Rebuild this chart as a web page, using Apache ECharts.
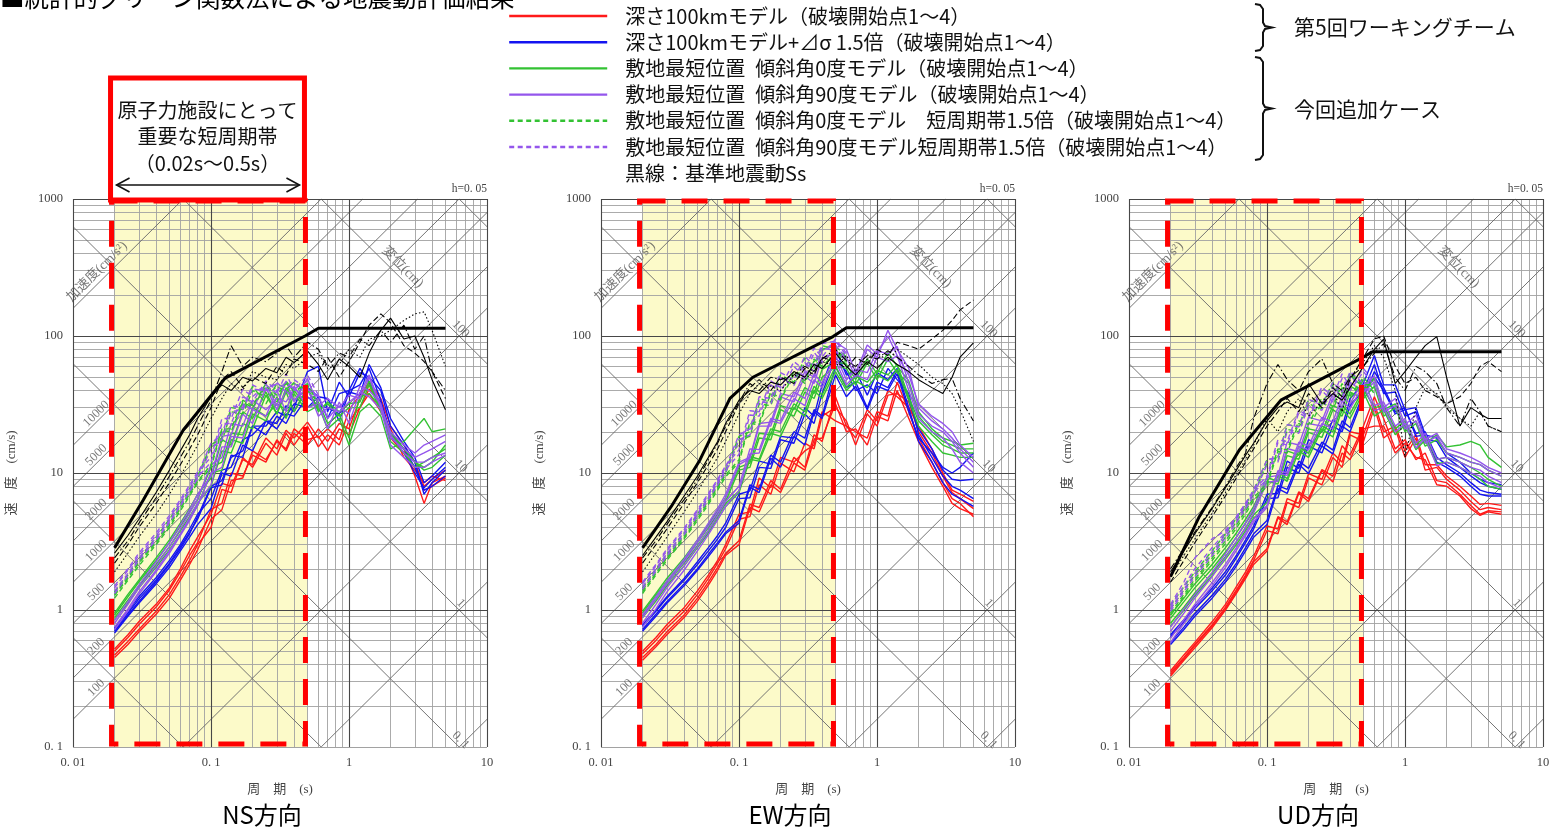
<!DOCTYPE html>
<html>
<head>
<meta charset="utf-8">
<title>統計的グリーン関数法による地震動評価結果</title>
<script src="https://cdn.jsdelivr.net/npm/echarts@6/dist/echarts.min.js"></script>
<style>
html,body{margin:0;padding:0;background:#fff;}
#chart{width:1557px;height:829px;}
</style>
</head>
<body>
<div id="chart"></div>
<script>
// ---- periods (s) shared by all simulated spectra ----
const periods = [0.02,0.025,0.03,0.04,0.05,0.06,0.07,0.08,0.1,0.12,0.14,0.17,0.2,0.25,0.3,0.35,0.4,0.5,0.6,0.7,0.85,1.0,1.2,1.4,1.7,2.0,2.5,3.0,3.5,4.0,5.0];

// ---- tick labels ----
const periodTickText = ['0. 01','0. 1','1','10'];
const velTickText = ['0. 1','1','10','100','1000'];
const accelLabelValues = [100,200,500,1000,2000,5000,10000];
const dispLabelValues = [0.1,1,10,100];
const dispLabelText = ['0. 1','1','10','100'];

// short-period band (s)
const shortBand = [0.02, 0.5];

const modelNames = [
  '深さ100kmモデル（破壊開始点1～4）',
  '深さ100kmモデル+⊿σ 1.5倍（破壊開始点1～4）',
  '敷地最短位置\u2002傾斜角0度モデル（破壊開始点1～4）',
  '敷地最短位置\u2002傾斜角90度モデル（破壊開始点1～4）',
  '敷地最短位置\u2002傾斜角0度モデル\u2003短周期帯1.5倍（破壊開始点1～4）',
  '敷地最短位置\u2002傾斜角90度モデル短周期帯1.5倍（破壊開始点1～4）'
];

// ---- NS ----
const nsSs = [[0.02,2.84],[0.0323,6.35],[0.063,20.6],[0.126,49],[0.48,100],[0.6,114],[5,114]];
const nsRed = [
  [0.50,0.63,0.78,1.05,1.40,1.90,2.50,3.10,5.4,6.0,10.0,9.5,13.5,12.0,17.5,14.5,19.5,16.0,21,17,23,21,35,44,31,19,15,9.5,6.0,8.5,9.5],
  [0.47,0.59,0.72,0.98,1.30,1.75,2.30,3.00,4.0,7.6,7.2,13.0,11.0,16.5,13.5,19.5,16.0,22.0,15.5,19.0,16,24,30,38,28,21,13,10.5,8.5,9.5,8.8],
  [0.45,0.56,0.69,0.93,1.22,1.65,2.15,2.75,4.6,5.4,8.8,9.2,14.5,12.5,17.0,15.0,21.0,17.5,18.5,14.5,21,19,30,41,33,18,14,11,7.5,8.0,9.2],
  [0.52,0.66,0.82,1.10,1.45,2.00,2.70,3.40,5.0,8.4,8.0,12.5,11.5,18.0,15.0,20.5,18.0,23.5,18.0,21,17.5,29,37,46,35,22,16,12,8.0,9.0,10.5]
];
const nsBlue = [
  [0.72,0.95,1.20,1.65,2.20,2.90,3.70,4.60,7.8,8.2,13.5,13.0,22,19,26,23,30,55,60,28,46,36,54,50,40,22,16,12,7.0,8.5,10.5],
  [0.68,0.90,1.12,1.55,2.05,2.70,3.40,4.20,5.5,10.0,9.5,16,14.5,24,21,27,26,36,31,30,27,40,44,58,34,19,14,10,7.8,9.0,11.0],
  [0.70,0.92,1.15,1.60,2.15,2.80,3.60,4.80,8.0,8.8,13.0,14.5,22,22,28,26,32,30,36,25,38,40,58,46,32,20,15,11,7.5,8.0,9.5],
  [0.74,0.98,1.25,1.72,2.30,3.00,3.90,5.00,6.5,10.5,11.0,17.5,19,24,23,31,28,42,36,35,24,39,37,62,42,25,17,13,8.5,9.5,12.0]
];
const nsGreen = [
  [0.92,1.25,1.60,2.30,3.10,4.10,5.20,6.40,11,12,19.5,19,30,26,32,29,40,30,33,23,27,18,36,38,30,17,14,11,12,13,15],
  [0.88,1.18,1.50,2.15,2.90,3.80,4.80,6.00,8.0,14.5,14.0,23,21,37,27,39,28,42,28,33,28,32,33,47,29,19,15,12,10.5,11,13.5],
  [0.85,1.12,1.45,2.05,2.75,3.60,4.60,5.80,10,10.5,17.5,16.5,27,24,36,25,38,28,31,21,25,16,28,32,26,15,17,21,25,20,21],
  [0.95,1.30,1.65,2.40,3.25,4.30,5.50,7.00,9.2,17.5,16,28,25,39,27,42,34,41,29,32,26,30,30,44,28,20,15,12,11,12,16]
];
const nsPurple = [
  [0.80,1.10,1.45,2.10,2.90,3.90,5.10,6.50,11.5,13,23,22,34,29,35,33,41,35,37,25,31,27,43,40,32,18,15,13,14,15,17],
  [0.75,1.02,1.35,1.95,2.70,3.60,4.70,6.00,8.2,15.5,15.5,27,23,42,29,40,34,42,26,30,28,33,38,52,31,19,14,12,12,13,14],
  [0.72,0.98,1.30,1.90,2.60,3.50,4.50,5.80,10,11,18.5,18,29,26,40,28,43,30,32,21,33,23,39,36,29,16,13,11,11,12,13.5],
  [0.84,1.15,1.52,2.25,3.10,4.20,5.40,7.00,9.5,18.5,19,32,29,45,31,47,33,49,31,35,30,37,35,50,30,20,16,14,16,17,19]
];
const nsGreenDash = [
  [1.30,1.75,2.25,3.20,4.30,5.70,7.20,9.0,15.5,17,28,27,40,36,43,39,46,38,34],
  [1.22,1.65,2.10,3.00,4.00,5.30,6.80,8.5,11,20.5,20,33,30,43,37,45,40,44,32],
  [1.35,1.80,2.35,3.40,4.60,6.00,7.60,9.5,16,18,30,29,43,32,45,41,45,40,33],
  [1.28,1.70,2.20,3.10,4.15,5.50,7.00,8.7,11.5,21,21,34,31,45,33,47,39,45,31]
];
const nsPurpleDash = [
  [1.45,1.95,2.50,3.50,4.70,6.20,7.90,9.8,16.5,19,31,30,44,39,45,42,48,41,36],
  [1.38,1.85,2.40,3.35,4.50,5.90,7.50,9.3,12,23,23,36,33,47,40,46,41,47,34],
  [1.32,1.78,2.30,3.25,4.35,5.75,7.30,9.1,15,17.5,28,29,41,40,46,39,45,39,33],
  [1.50,2.00,2.60,3.65,4.90,6.40,8.20,10.2,13,25,25,41,36,44,38,53,40,52,37]
];
const nsBlack = [
  [2.6,3.5,4.6,7.2,10.5,14.5,19,25,36,44,40,50,47,58,54,70,64,78,62,48,68,60,50,75,110,135,95,100,70,48,29],
  [2.2,3.0,4.0,6.0,8.5,11.5,15,19,30,48,55,42,50,45,60,52,68,62,55,70,50,65,90,120,145,125,85,75,65,55,35],
  [1.9,2.6,3.4,5.0,7.0,9.5,12.5,16,25,35,45,40,55,50,48,62,58,70,75,58,62,80,70,95,100,110,130,145,150,110,60],
  [2.4,3.2,4.3,6.6,9.5,13,17,22,34,55,85,60,70,65,75,85,70,90,80,60,75,70,95,85,110,90,120,80,100,55,40]
];

// ---- EW ----
const ewSs = [[0.02,2.84],[0.0323,5.7],[0.052,12.4],[0.086,35],[0.126,50],[0.48,99],[0.6,115],[5,115]];
const ewRed = [
  [0.48,0.60,0.74,0.98,1.30,1.70,2.20,2.80,4.6,4.8,8.2,7.0,11.8,10.2,16.5,15,26,30,24,16,27,22,37,38,33,20,14,9.5,7.2,6.5,5.5],
  [0.45,0.56,0.69,0.92,1.22,1.60,2.05,2.60,3.2,5.9,5.6,8.8,7.6,13,11,19,17,36,22,20,18,28,26,46,28,18,12,8.5,6.5,6.0,4.8],
  [0.50,0.63,0.78,1.04,1.38,1.80,2.30,3.00,5.0,5.2,9.2,7.8,13,12,14.5,16,28,24,22,18,29,24,40,36,30,22,15,10,7.5,7.0,6.2],
  [0.43,0.54,0.66,0.88,1.16,1.52,1.95,2.50,3.0,5.6,5.2,8.2,7.2,11.8,10.5,17.5,18,32,20,21,16,26,24,40,25,17,11,8,6.0,5.5,5.0]
];
const ewBlue = [
  [0.76,0.98,1.22,1.65,2.15,2.70,3.30,4.00,6.5,6.6,11,10.8,17.5,16.5,27,23,38,70,55,40,44,38,58,48,38,19,13,9.5,8.0,7.5,6.5],
  [0.72,0.93,1.15,1.55,2.00,2.55,3.10,3.70,4.5,8.2,7.6,13.5,12,20,18,29,26,60,42,46,30,46,42,56,30,17,12,8.5,7.0,6.5,5.7],
  [0.78,1.00,1.25,1.70,2.25,2.85,3.50,4.30,7.0,7.4,12.2,11.6,18.5,18,30,26,44,80,52,56,37,54,48,58,34,21,15,10.5,9.0,8.8,9.0],
  [0.70,0.90,1.12,1.50,1.95,2.45,3.00,3.60,4.3,7.9,7.2,12.8,11,18.5,16,28,25,52,36,43,29,43,40,53,28,18,14,11,10,11,14]
];
const ewGreen = [
  [0.95,1.28,1.62,2.30,3.10,4.00,5.00,6.20,10.5,11,18,17.5,29,26,39,35,50,60,58,44,64,48,68,54,45,26,20,17,16,15,15],
  [0.90,1.20,1.55,2.20,2.95,3.80,4.80,6.00,7.4,13.2,12.6,21,20,32,28,43,37,60,42,51,46,56,52,62,36,24,19,16,15,14,14],
  [0.98,1.32,1.70,2.40,3.25,4.20,5.30,6.60,11,11.8,19.5,19,31,29,42,38,57,65,62,48,68,53,76,60,47,28,21,18,17,16,16.5],
  [0.88,1.16,1.50,2.10,2.85,3.65,4.60,5.70,7.2,12.6,12.2,19.5,18.5,30,26,40,35,55,40,47,42,52,47,57,34,22,17,14,13.5,13,13]
];
const ewPurple = [
  [0.88,1.20,1.55,2.25,3.10,4.10,5.20,6.60,11.5,12.8,22,22,36,33,51,45,69,75,70,50,80,70,110,80,58,30,24,21,18,15,12],
  [0.80,1.10,1.45,2.10,2.90,3.80,4.90,6.20,8.0,15,14.8,25,24,39,35,53,45,72,48,57,54,78,74,84,45,27,22,20,17,14,11],
  [0.92,1.25,1.62,2.35,3.25,4.30,5.50,7.00,12,13,23,23.5,38,36,55,50,78,90,80,54,86,74,100,72,52,32,26,23,20,16,13],
  [0.75,1.02,1.35,1.95,2.70,3.55,4.55,5.70,7.4,13.8,14,24,23,35,31,48,42,66,44,52,48,70,65,72,40,25,20,18,15,12,10]
];
const ewGreenDash = [
  [1.40,1.90,2.45,3.50,4.80,6.30,8.0,10.0,17.5,18.5,32,31,49,44,64,55,80,85,70],
  [1.32,1.80,2.30,3.30,4.50,5.90,7.5,9.4,12,23,22.5,38,34,53,45,66,57,78,65],
  [1.45,1.98,2.55,3.65,5.00,6.60,8.4,10.5,18.5,20,35,33,52,46,69,58,85,80,68],
  [1.36,1.85,2.38,3.40,4.65,6.10,7.8,9.7,12.5,23.5,23.5,39,35,55,47,68,60,75,62]
];
const ewPurpleDash = [
  [1.55,2.10,2.70,3.85,5.25,6.90,8.8,11.0,19,21,36,35,54,48,71,61,88,92,72],
  [1.48,2.00,2.58,3.70,5.05,6.65,8.5,10.6,13.7,26.5,26,44,39,60,50,76,64,86,68],
  [1.42,1.92,2.48,3.55,4.85,6.40,8.2,10.2,17.5,19,33.5,32,49.5,43.5,64,55,82,78,66],
  [1.60,2.15,2.78,3.95,5.40,7.10,9.0,11.3,14.8,28.5,28,47,42,65,56,82,70,95,75]
];
const ewBlack = [
  [2.5,3.4,4.4,6.8,9.5,13,17,23,34,40,38,46,44,55,50,62,58,75,60,52,65,58,70,62,55,48,42,38,50,70,89],
  [2.2,3.0,3.9,6.0,8.5,11.5,15,20,32,42,48,40,50,45,58,52,70,65,58,70,62,80,72,90,85,80,95,110,130,155,183],
  [1.9,2.6,3.4,5.2,7.3,10,13,17,27,38,45,43,40,52,48,56,65,60,72,55,68,75,66,80,70,62,50,45,38,29,17],
  [2.4,3.2,4.2,6.4,9.0,12.5,16.5,22,33,45,40,50,48,52,60,55,68,80,66,60,72,68,78,70,60,52,45,48,49,35,24]
];

// ---- UD ----
const udSs = [[0.02,1.75],[0.0323,4.8],[0.063,14.7],[0.126,34],[0.48,68.7],[0.58,76.7],[5,76.7]];
const udRed = [
  [0.35,0.45,0.56,0.78,1.05,1.40,1.80,2.30,3.8,3.6,6.1,5.6,9.2,8.2,13,11,19,17,30,18,21,13,18,10.5,11,9.0,7.5,6.2,5.4,5.6,5.4],
  [0.33,0.43,0.53,0.74,1.00,1.32,1.70,2.15,2.7,4.7,4.2,7.1,6.2,10.4,8.6,14,12.5,21,22,22,14,16.5,13,12.5,8.2,8.0,6.8,5.5,4.9,5.2,5.0],
  [0.36,0.47,0.58,0.82,1.10,1.48,1.90,2.45,4.1,3.9,6.5,6.0,9.9,9.0,14,12,20,19,32,20,22,14.5,19,11.5,11.5,9.5,8.0,6.8,5.9,6.0,5.8],
  [0.34,0.44,0.55,0.76,1.02,1.36,1.75,2.25,2.8,4.8,4.4,7.3,6.5,10.6,9.5,15.8,13.5,22,36,25,15,17.5,12.5,14,8.8,8.5,7.0,5.8,5.0,5.3,5.2]
];
const udBlue = [
  [0.64,0.82,1.02,1.38,1.80,2.40,3.10,3.90,6.5,6.6,11,10,15.8,14,22,20,31,40,62,38,39,26,28,17.5,17,13,11,9.5,8.5,8.0,7.6],
  [0.58,0.75,0.94,1.28,1.68,2.20,2.85,3.60,4.5,8.1,7.6,12.2,10.8,16.8,14.7,24,21.5,38,50,40,27,29,19.5,20,13,11.5,10,8.5,7.5,7.2,7.0],
  [0.66,0.85,1.06,1.44,1.90,2.50,3.25,4.10,7.0,7.1,12.2,10.8,17.5,15.6,24.5,21.5,35,45,72,44,44,29,30,19,18,14,12,10,9.0,8.5,8.2],
  [0.56,0.72,0.90,1.22,1.60,2.10,2.70,3.40,4.2,7.7,7.1,11.6,9.9,15.7,13.8,22,20,36,55,42,28,30,18.5,19,12,11,9.5,8.0,7.0,6.8,6.8]
];
const udGreen = [
  [0.87,1.15,1.45,2.00,2.65,3.40,4.30,5.30,8.7,8.3,13.4,12.6,19.8,18.2,29,26,39,35,43,26,30,20,23,15.7,17.5,14,13,12,11.5,10.5,9.5],
  [0.80,1.05,1.33,1.85,2.45,3.15,4.00,4.95,6.1,10.2,9.1,15.7,13.9,22,20,31,27,41,30,31,21,24,16,18.5,12.6,13,12,11,10,9.0,8.0],
  [0.92,1.22,1.55,2.15,2.85,3.65,4.60,5.70,9.3,8.7,14.5,13.5,21,20,31,29,43,38,50,29,32,21,24,16.5,19,15.5,16,17,16,13,11],
  [0.76,1.00,1.27,1.78,2.35,3.00,3.80,4.70,5.7,9.6,8.7,14.5,13,21,18.3,29,25,39,26,29,19,22.5,14.8,17.4,11.7,12,11,10,9.0,8.0,7.6]
];
const udPurple = [
  [0.70,0.95,1.22,1.75,2.40,3.15,4.00,5.10,8.6,8.7,15.1,14.3,23,22,35,30,46,39,46,28,31,21,24,16.5,18.5,14,13,12,11.5,10.5,9.5],
  [0.62,0.85,1.10,1.58,2.15,2.85,3.65,4.60,5.8,10.4,10,16.8,15.7,25.5,23.5,37,32,48,31,33,22,25,16.5,19.5,12.6,13,12,11,10.5,9.5,8.5],
  [0.75,1.02,1.30,1.88,2.58,3.40,4.35,5.50,9.3,9.6,16.8,16,25.5,24,38,34,51,43,51,30,35,22.5,26.5,17.5,19.5,15,14,13,12,11,10],
  [0.58,0.80,1.04,1.50,2.05,2.72,3.50,4.40,5.6,10,9.6,15.6,14.8,23,21,33.5,29.5,44,28.5,30,20,23,15.2,18,11.3,12,11,10,9.5,8.5,7.8]
];
const udGreenDash = [
  [1.02,1.40,1.80,2.55,3.40,4.40,5.60,7.00,11.8,12.2,20.8,20,32,29.5,44,36.5,52,42,42],
  [0.95,1.30,1.68,2.40,3.20,4.15,5.30,6.60,8.4,15,14.8,24,22.6,35.5,30.5,45,36.5,50,40],
  [1.08,1.48,1.90,2.70,3.60,4.65,5.90,7.40,12.5,13,22.5,21.8,34.5,31.3,46,38.3,54,44,44],
  [0.92,1.25,1.62,2.30,3.05,3.95,5.05,6.30,8,14.4,14,23,21,33,29,42,35,48,38]
];
const udPurpleDash = [
  [1.10,1.60,2.40,3.30,3.80,4.80,6.00,7.50,12.5,13,22.5,21.7,34.5,31.3,46,39,55,45,46],
  [1.02,1.42,1.85,2.65,3.55,4.60,5.80,7.20,9,16.7,16,27.5,25,40,33,49,40,55,43],
  [0.98,1.36,1.75,2.50,3.35,4.35,5.50,6.90,11.5,12,20,19.5,31,28.7,42.5,35.7,50.5,41,41],
  [1.06,1.50,2.00,2.85,3.70,4.75,6.00,7.50,9.5,17.5,17,28.7,26,42.5,35.7,53,42.6,58,46]
];
const udBlack = [
  [1.9,2.7,3.6,5.5,7.8,10.5,13.5,16.5,24,30,33,30,45,32,38,34,42,60,80,95,45,55,70,85,99,50,22,30,27,25,25],
  [1.6,2.3,3.1,4.8,6.8,9.2,12,15,22,28,35,28,38,30,42,36,48,70,95,100,60,45,50,40,36,32,36,45,60,65,55],
  [1.75,2.5,3.3,5.1,7.2,9.8,12.5,16,25,20,28,35,26,33,40,28,50,65,85,70,40,13,30,42,38,30,25,22,28,22,20],
  [2.0,2.8,3.7,5.6,8.0,11,14,25,45,62,48,40,55,68,45,40,50,60,75,88,50,40,60,55,45,30,22,35,28,22,20]
];

const panels = [
  {title:'NS方向', ss:nsSs, red:nsRed, blue:nsBlue, green:nsGreen, purple:nsPurple, greenDash:nsGreenDash, purpleDash:nsPurpleDash, black:nsBlack},
  {title:'EW方向', ss:ewSs, red:ewRed, blue:ewBlue, green:ewGreen, purple:ewPurple, greenDash:ewGreenDash, purpleDash:ewPurpleDash, black:ewBlack},
  {title:'UD方向', ss:udSs, red:udRed, blue:udBlue, green:udGreen, purple:udPurple, greenDash:udGreenDash, purpleDash:udPurpleDash, black:udBlack}
];

// ---- tripartite paper: grid decades and diagonal families ----
const periodDecades = [0.01,0.1,1,10];
const velDecades = [0.1,1,10,100,1000];
const minorSteps = [2,3,4,5,6,7,8,9];
const accelLines = [0.1,1,10,100,200,500,1000,2000,5000,10000,100000]; // cm/s^2
const dispLines = [0.001,0.01,0.1,1,10,100,1000];                       // cm

// ---- layout & styles ----
const SERIF = '"Liberation Serif","DejaVu Serif","Noto Sans CJK JP",serif';
const SANS = '"Noto Sans CJK JP","Noto Sans",sans-serif';
const gridLefts = [73, 601, 1129];
const gridTop = 199, gridW = 414, gridH = 548;
const COLORS = {red:'#ff1a1a', blue:'#1414f0', green:'#33c233', purple:'#9456ec', black:'#000'};
const blackTypes = ['solid', [6,3], [1.5,2.2], [7,2.5,1.5,2.5]];
const shortDash = [5, 3.5];

const L2PI = Math.log10(2 * Math.PI);
// velocity = A*T/(2π): clip the constant-acceleration line to the chart box (log space)
function accelSeg(A) {
  const c = Math.log10(A) - L2PI;
  const t0 = Math.max(-2, -1 - c), t1 = Math.min(1, 3 - c);
  if (t1 <= t0) return null;
  return [[10 ** t0, 10 ** (t0 + c)], [10 ** t1, 10 ** (t1 + c)]];
}
// velocity = 2πD/T
function dispSeg(D) {
  const c = Math.log10(D) + L2PI;
  const t0 = Math.max(-2, c - 3), t1 = Math.min(1, c + 1);
  if (t1 <= t0) return null;
  return [[10 ** t0, 10 ** (c - t0)], [10 ** t1, 10 ** (c - t1)]];
}

const minorV = [], majorV = [], diag = [];
periodDecades.forEach(d => {
  majorV.push({coords: [[d, 0.1], [d, 1000]]});
  if (d < 10) minorSteps.forEach(m => minorV.push({coords: [[d * m, 0.1], [d * m, 1000]]}));
});
velDecades.forEach(d => {
  majorV.push({coords: [[0.01, d], [10, d]]});
  if (d < 1000) minorSteps.forEach(m => minorV.push({coords: [[0.01, d * m], [10, d * m]]}));
});
accelLines.forEach(a => { const s = accelSeg(a); if (s) diag.push({coords: s}); });
dispLines.forEach(d => { const s = dispSeg(d); if (s) diag.push({coords: s}); });

function linesSeries(gi, data, color, width, z) {
  return {type:'lines', coordinateSystem:'cartesian2d', xAxisIndex:gi, yAxisIndex:gi, data,
    lineStyle:{color, width, opacity:1}, silent:true, z, animation:false};
}
function curve(gi, name, vals, color, type, width, z) {
  return {type:'line', name, xAxisIndex:gi, yAxisIndex:gi,
    data: vals.map((v, i) => [periods[i], v]),
    symbol:'none', showSymbol:false, color,
    lineStyle:{color, width, type}, silent:true, z, animation:false};
}

const grids = [], xAxes = [], yAxes = [], series = [];
panels.forEach((p, gi) => {
  grids.push({left: gridLefts[gi], top: gridTop, width: gridW, height: gridH});
  xAxes.push({gridIndex: gi, type:'log', logBase:10, min:0.01, max:10,
    axisLine:{show:false}, axisTick:{show:false}, splitLine:{show:false},
    axisLabel:{formatter: v => periodTickText[Math.round(Math.log10(v)) + 2], fontFamily:SERIF, fontSize:12.5, color:'#444', margin:9},
    name:'周　期　(s)', nameLocation:'middle', nameGap:36,
    nameTextStyle:{fontFamily:SERIF, fontSize:13, color:'#444'}});
  yAxes.push({gridIndex: gi, type:'log', logBase:10, min:0.1, max:1000,
    axisLine:{show:false}, axisTick:{show:false}, splitLine:{show:false},
    axisLabel:{formatter: v => velTickText[Math.round(Math.log10(v)) + 1], fontFamily:SERIF, fontSize:12.5, color:'#444', margin:10},
    name:'速　度　(cm/s)', nameLocation:'middle', nameGap:55, nameRotate:90,
    nameTextStyle:{fontFamily:SERIF, fontSize:13, color:'#444'}});

  // pale yellow short-period band
  series.push({type:'line', xAxisIndex:gi, yAxisIndex:gi,
    data:[[shortBand[0], 1000], [shortBand[1], 1000]], symbol:'none',
    lineStyle:{width:0}, areaStyle:{color:'#fcfac9', opacity:1, origin:'start'},
    silent:true, z:1, animation:false});

  series.push(linesSeries(gi, minorV, '#a2a2a2', 0.9, 2));
  series.push(linesSeries(gi, diag, '#6e6e6e', 0.95, 2));
  series.push(linesSeries(gi, majorV, '#474747', 1.1, 2));

  // diagonal scale labels
  const lab = [];
  accelLabelValues.forEach(a => {
    const t = 0.017;
    lab.push({value:[t, a * t / (2 * Math.PI)], label:{formatter:String(a), rotate:45, offset:[-6, -6]}});
  });
  dispLabelValues.forEach((d, i) => {
    const t = 5.6;
    lab.push({value:[t, 2 * Math.PI * d / t], label:{formatter:dispLabelText[i], rotate:-45, offset:[6, -6]}});
  });
  lab.push({value:[0.0185, 100000 * 0.0185 / (2 * Math.PI)], label:{formatter:'加速度(cm/s²)', rotate:45, offset:[-9, -9], fontSize:13.5}});
  lab.push({value:[2.0, 2 * Math.PI * 100 / 2.0], label:{formatter:'変位(cm)', rotate:-45, offset:[8, -9], fontSize:13.5}});
  series.push({type:'scatter', xAxisIndex:gi, yAxisIndex:gi, data:lab, symbolSize:0.1,
    itemStyle:{color:'rgba(0,0,0,0)'}, silent:true, z:3, animation:false,
    label:{show:true, position:'inside', fontFamily:SERIF, fontSize:12.5, color:'#555'}});

  // simulated spectra
  p.red.forEach(v => series.push(curve(gi, modelNames[0], v, COLORS.red, 'solid', 1.4, 4)));
  p.blue.forEach(v => series.push(curve(gi, modelNames[1], v, COLORS.blue, 'solid', 1.4, 4)));
  p.green.forEach(v => series.push(curve(gi, modelNames[2], v, COLORS.green, 'solid', 1.4, 4)));
  p.purple.forEach(v => series.push(curve(gi, modelNames[3], v, COLORS.purple, 'solid', 1.4, 4)));
  p.greenDash.forEach(v => series.push(curve(gi, modelNames[4], v, COLORS.green, shortDash, 1.4, 4)));
  p.purpleDash.forEach(v => series.push(curve(gi, modelNames[5], v, COLORS.purple, shortDash, 1.4, 4)));
  // design ground motions Ss
  p.black.forEach((v, k) => series.push(curve(gi, '基準地震動Ss', v, COLORS.black, blackTypes[k], 1.1, 5)));
  series.push({type:'line', name:'基準地震動Ss', xAxisIndex:gi, yAxisIndex:gi, data:p.ss,
    symbol:'none', color:'#000', lineStyle:{color:'#000', width:3}, silent:true, z:6, animation:false});
});

const chart = echarts.init(document.getElementById('chart'));
chart.setOption({
  animation:false,
  grid:grids, xAxis:xAxes, yAxis:yAxes, series,
  legend:{
    data:modelNames, orient:'vertical', left:508, top:6, padding:0,
    itemWidth:98, itemHeight:14, itemGap:6.2, selectedMode:false,
    itemStyle:{opacity:0},
    lineStyle:{width:2.4},
    textStyle:{fontFamily:SANS, fontSize:20, color:'#111', lineHeight:20, padding:[0,0,0,13]}
  }
});

// annotations that sit in pixel space around the grids
const graphics = [];
graphics.push({type:'text', x:0, y:-2, silent:true,
  style:{text:'■統計的グリーン関数法による地震動評価結果', font:'24.5px ' + SANS, fill:'#000', textVerticalAlign:'middle'}});
graphics.push({type:'text', x:625, y:173, silent:true,
  style:{text:'黒線：基準地震動Ss', font:'20px ' + SANS, fill:'#111', textVerticalAlign:'middle'}});

function bracket(yTop, yBot) {
  const ym = (yTop + yBot) / 2;
  return {type:'polyline', silent:true, shape:{points:[
    [1255, yTop], [1260, yTop + 1], [1263, yTop + 5], [1263, ym - 5], [1265, ym - 1.5], [1272, ym],
    [1265, ym + 1.5], [1263, ym + 5], [1263, yBot - 5], [1260, yBot - 1], [1255, yBot]]},
    style:{stroke:'#111', lineWidth:2, fill:null}};
}
graphics.push(bracket(4, 51));
graphics.push(bracket(57, 160));
graphics.push({type:'text', x:1294, y:27, silent:true,
  style:{text:'第5回ワーキングチーム', font:'21px ' + SANS, fill:'#111', textVerticalAlign:'middle'}});
graphics.push({type:'text', x:1294, y:109, silent:true,
  style:{text:'今回追加ケース', font:'21px ' + SANS, fill:'#111', textVerticalAlign:'middle'}});

panels.forEach((p, gi) => {
  const xl = chart.convertToPixel({gridIndex:gi}, [shortBand[0], 1000])[0];
  const xr = chart.convertToPixel({gridIndex:gi}, [shortBand[1], 1000])[0];
  graphics.push({type:'rect', silent:true, z:20,
    shape:{x:xl - 3, y:gridTop + 2, width:xr - xl + 1, height:gridH - 5},
    style:{fill:null, stroke:'#ff0000', lineWidth:5, lineDash:[26, 16]}});
  graphics.push({type:'text', silent:true, x:gridLefts[gi] + 189, y:815,
    style:{text:p.title, font:'24px ' + SANS, fill:'#000', textAlign:'center', textVerticalAlign:'middle'}});
  graphics.push({type:'text', silent:true, x:gridLefts[gi] + gridW, y:189,
    style:{text:'h=0. 05', font:'11.5px ' + SERIF, fill:'#444', textAlign:'right', textVerticalAlign:'middle'}});
  if (gi === 0) {
    const bx = xl - 4, bw = xr - xl + 1;
    graphics.push({type:'rect', silent:true, z:21,
      shape:{x:bx, y:78, width:bw, height:gridTop + 1 - 78},
      style:{fill:'#fff', stroke:'#ff0000', lineWidth:5}});
    const cx = bx + bw / 2;
    [['原子力施設にとって', 110], ['重要な短周期帯', 136], ['（0.02s～0.5s）', 163]].forEach(([t, y]) => {
      graphics.push({type:'text', silent:true, z:22, x:cx, y,
        style:{text:t, font:'20px ' + SANS, fill:'#111', textAlign:'center', textVerticalAlign:'middle'}});
    });
    const ay = 185, a0 = bx + 6, a1 = bx + bw - 5;
    graphics.push({type:'line', silent:true, z:22, shape:{x1:a0, y1:ay, x2:a1, y2:ay}, style:{stroke:'#111', lineWidth:1.6}});
    graphics.push({type:'polyline', silent:true, z:22, shape:{points:[[a0 + 13, ay - 7], [a0, ay], [a0 + 13, ay + 7]]}, style:{stroke:'#111', lineWidth:1.6, fill:null}});
    graphics.push({type:'polyline', silent:true, z:22, shape:{points:[[a1 - 13, ay - 7], [a1, ay], [a1 - 13, ay + 7]]}, style:{stroke:'#111', lineWidth:1.6, fill:null}});
  }
});
chart.setOption({graphic:{elements:graphics}});
</script>
</body>
</html>
